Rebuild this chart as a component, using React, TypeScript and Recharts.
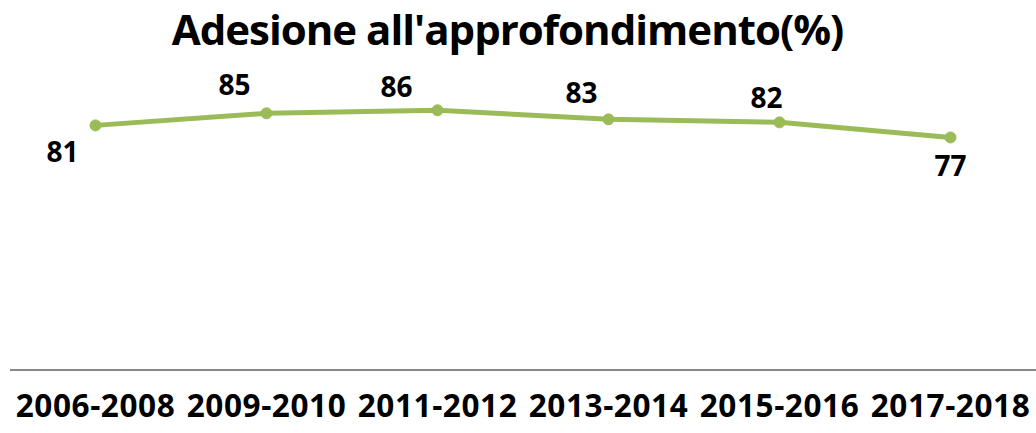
import React from "react"
import { LineChart, Line, XAxis, YAxis, LabelList } from "recharts"

const periods = ["2006-2008", "2009-2010", "2011-2012", "2013-2014", "2015-2016", "2017-2018"]
const adesione = [81, 85, 86, 83, 82, 77]

const chartData = periods.map((p, i) => ({ period: p, value: adesione[i] }))

const GREEN = "#9BBB59"
const FONT = "'Open Sans', 'Noto Sans', sans-serif"

// manual placement of value labels (as in the original sheet)
const labelShift = [
  { dx: -33, dy: 27 },
  { dx: -32, dy: -28 },
  { dx: -41, dy: -23 },
  { dx: -27, dy: -26 },
  { dx: -13, dy: -24 },
  { dx: 0, dy: 29 },
]

const ValueLabel = (props: any) => {
  const { x, y, value, index } = props
  const s = labelShift[index] || { dx: 0, dy: -24 }
  return (
    <text
      x={x + s.dx}
      y={y + s.dy + 10}
      textAnchor="middle"
      fontFamily={FONT}
      fontWeight={700}
      fontSize={28}
      fill="#000"
    >
      {value}
    </text>
  )
}

const PeriodTick = (props: any) => {
  const { x, y, payload } = props
  return (
    <text
      x={x}
      y={y}
      dy={45}
      textAnchor="middle"
      fontFamily={FONT}
      fontWeight={700}
      fontSize={31.5}
      letterSpacing={0.6}
      fill="#000"
    >
      {payload.value}
    </text>
  )
}

export default function App() {
  return (
    <div style={{ position: "absolute", left: 0, top: 0, width: 1036, height: 433, background: "#fff" }}>
      <div
        style={{
          position: "absolute",
          left: 0,
          top: 3,
          width: 1015,
          textAlign: "center",
          fontFamily: FONT,
          fontWeight: 700,
          fontSize: 42,
          letterSpacing: -1,
          lineHeight: "52px",
          color: "#000",
        }}
      >
        Adesione all'approfondimento(%)
      </div>
      <LineChart width={1036} height={433} data={chartData} margin={{ top: 68, right: 0, left: 10, bottom: 0 }}>
        <XAxis
          dataKey="period"
          height={63}
          padding={{ left: 85.5, right: 85.5 }}
          tickLine={false}
          tickSize={0}
          axisLine={{ stroke: "#888888", strokeWidth: 2 }}
          tick={<PeriodTick />}
          interval={0}
        />
        <YAxis hide domain={[0, 100]} />
        <Line
          type="linear"
          dataKey="value"
          stroke={GREEN}
          strokeWidth={5}
          dot={{ r: 5.5, fill: GREEN, stroke: GREEN, strokeWidth: 1 }}
          isAnimationActive={false}
        >
          <LabelList dataKey="value" content={<ValueLabel />} />
        </Line>
      </LineChart>
    </div>
  )
}
